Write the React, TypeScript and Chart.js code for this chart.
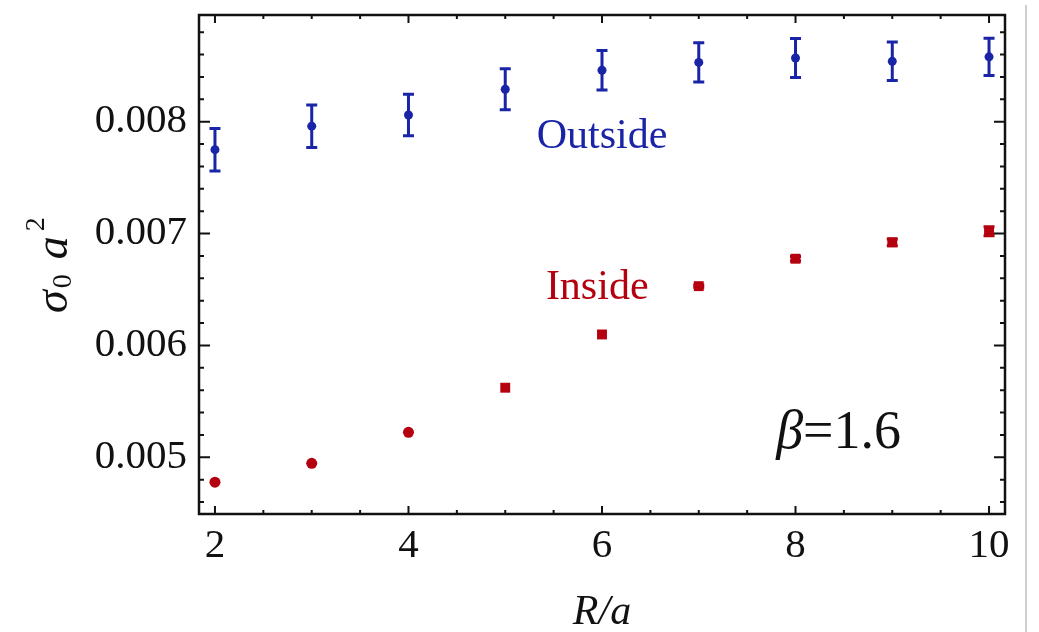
import React, { useEffect, useRef } from "react";
import { Chart, registerables } from "chart.js";
Chart.register(...registerables);

const rValues = [2, 3, 4, 5, 6, 7, 8, 9, 10];
const outsideValues = [0.00775, 0.00796, 0.00806, 0.00829, 0.00846, 0.00853, 0.00857, 0.00854, 0.00858];
const outsideErrors = [0.00019, 0.00019, 0.000185, 0.000183, 0.000176, 0.000176, 0.000174, 0.000172, 0.000167];
const insideValues = [0.004777, 0.004946, 0.005223, 0.005622, 0.006098, 0.00653, 0.006775, 0.006922, 0.007021];
const insideErrors = [0, 0, 0, 0, 0, 0.00001, 0.00002, 0.00003, 0.00004];
const insidePointStyles = ["circle", "circle", "circle", "rect", "rect", "rect", "rect", "rect", "rect"];

const xTickValues = [2, 4, 6, 8, 10];
const yTickValues = [0.005, 0.006, 0.007, 0.008];
const xMinorTickValues = [2, 2.5, 3, 3.5, 4, 4.5, 5, 5.5, 6, 6.5, 7, 7.5, 8, 8.5, 9, 9.5, 10];
const yMinorTickValues = [
  0.0046, 0.0048, 0.005, 0.0052, 0.0054, 0.0056, 0.0058, 0.006, 0.0062, 0.0064, 0.0066,
  0.0068, 0.007, 0.0072, 0.0074, 0.0076, 0.0078, 0.008, 0.0082, 0.0084, 0.0086, 0.0088,
];

const X_MIN = 1.835;
const X_MAX = 10.165;
const Y_MIN = 0.004493;
const Y_MAX = 0.008954;

const BLUE = "#1a24a6";
const RED = "#b4000f";
const SERIF = "'Liberation Serif', 'Times New Roman', serif";

function drawErrorBars(ctx: CanvasRenderingContext2D, chart: any, values: number[], errs: number[], color: string) {
  const xs = chart.scales.x;
  const ys = chart.scales.y;
  ctx.save();
  ctx.strokeStyle = color;
  ctx.lineWidth = 3;
  for (let i = 0; i < rValues.length; i++) {
    if (!errs[i]) continue;
    const px = xs.getPixelForValue(rValues[i]);
    const yTop = ys.getPixelForValue(values[i] + errs[i]);
    const yBot = ys.getPixelForValue(values[i] - errs[i]);
    ctx.beginPath();
    ctx.moveTo(px, yTop);
    ctx.lineTo(px, yBot);
    ctx.moveTo(px - 5.5, yTop);
    ctx.lineTo(px + 5.5, yTop);
    ctx.moveTo(px - 5.5, yBot);
    ctx.lineTo(px + 5.5, yBot);
    ctx.stroke();
  }
  ctx.restore();
}

const framePlugin = {
  id: "framePlugin",
  beforeDatasetsDraw(chart: any) {
    const ctx = chart.ctx;
    drawErrorBars(ctx, chart, outsideValues, outsideErrors, BLUE);
    drawErrorBars(ctx, chart, insideValues, insideErrors, RED);
  },
  afterDraw(chart: any) {
    const ctx: CanvasRenderingContext2D = chart.ctx;
    const { left, right, top, bottom } = chart.chartArea;
    const xs = chart.scales.x;
    const ys = chart.scales.y;
    ctx.save();
    // frame
    ctx.strokeStyle = "#111";
    ctx.lineWidth = 2.5;
    ctx.strokeRect(left, top, right - left, bottom - top);
    // ticks
    ctx.lineWidth = 2;
    ctx.beginPath();
    for (const v of xMinorTickValues) {
      const px = xs.getPixelForValue(v);
      const len = xTickValues.includes(v) ? 8 : 4;
      ctx.moveTo(px, bottom);
      ctx.lineTo(px, bottom - len);
      ctx.moveTo(px, top);
      ctx.lineTo(px, top + len);
    }
    for (const v of yMinorTickValues) {
      const py = ys.getPixelForValue(v);
      const major = yTickValues.some((t) => Math.abs(t - v) < 1e-9);
      const len = major ? 11 : 5;
      ctx.moveTo(left, py);
      ctx.lineTo(left + len, py);
      ctx.moveTo(right, py);
      ctx.lineTo(right - len, py);
    }
    ctx.stroke();

    // annotations
    ctx.textAlign = "left";
    ctx.textBaseline = "alphabetic";
    ctx.font = `42px ${SERIF}`;
    ctx.fillStyle = BLUE;
    ctx.fillText("Outside", xs.getPixelForValue(5.325), ys.getPixelForValue(0.007765));
    ctx.fillStyle = RED;
    ctx.fillText("Inside", xs.getPixelForValue(5.42), ys.getPixelForValue(0.006416));

    ctx.fillStyle = "#111";
    const bx = xs.getPixelForValue(7.8);
    const by = ys.getPixelForValue(0.00508);
    ctx.font = `italic 54px ${SERIF}`;
    ctx.fillText("β", bx, by);
    const bw = ctx.measureText("β").width;
    ctx.font = `54px ${SERIF}`;
    ctx.fillText("=1.6", bx + bw, by);

    // x axis title
    ctx.font = `italic 42px ${SERIF}`;
    ctx.textAlign = "center";
    ctx.fillText("R/a", (left + right) / 2, 624);

    // y axis title
    ctx.save();
    ctx.translate(67, 313);
    ctx.rotate(-Math.PI / 2);
    ctx.textAlign = "left";
    let cx = 0;
    ctx.font = `italic 46px ${SERIF}`;
    ctx.fillText("σ", cx, 0);
    cx += ctx.measureText("σ").width + 2;
    ctx.font = `28px ${SERIF}`;
    ctx.fillText("0", cx, 4);
    cx += ctx.measureText("0").width + 15;
    ctx.font = `italic 46px ${SERIF}`;
    ctx.fillText("a", cx, 0);
    cx += ctx.measureText("a").width + 5;
    ctx.font = `28px ${SERIF}`;
    ctx.fillText("2", cx, -23);
    ctx.restore();

    // gray vertical rule at right
    ctx.strokeStyle = "#cfcfcf";
    ctx.lineWidth = 2;
    ctx.beginPath();
    ctx.moveTo(1026, 5);
    ctx.lineTo(1026, chart.height);
    ctx.stroke();
    ctx.restore();
  },
};

export default function App() {
  const canvasRef = useRef<HTMLCanvasElement | null>(null);

  useEffect(() => {
    document.body.style.margin = "0";
    const canvas = canvasRef.current;
    if (!canvas) return;
    const chart = new Chart(canvas, {
      type: "scatter",
      data: {
        datasets: [
          {
            label: "Outside",
            data: rValues.map((r, i) => ({ x: r, y: outsideValues[i] })),
            backgroundColor: BLUE,
            borderColor: BLUE,
            pointStyle: "circle",
            pointRadius: 4.5,
            borderWidth: 0,
          },
          {
            label: "Inside",
            data: rValues.map((r, i) => ({ x: r, y: insideValues[i] })),
            backgroundColor: RED,
            borderColor: RED,
            pointStyle: insidePointStyles as any,
            pointRadius: insidePointStyles.map((s) => (s === "rect" ? 7 : 5.5)),
            borderWidth: 0,
          },
        ],
      },
      options: {
        responsive: false,
        animation: false,
        devicePixelRatio: 1,
        layout: { padding: { top: 15, right: 34, left: 0, bottom: 0 } },
        plugins: { legend: { display: false }, tooltip: { enabled: false } },
        scales: {
          x: {
            type: "linear",
            min: X_MIN,
            max: X_MAX,
            grid: { display: false, drawTicks: false },
            border: { display: false },
            afterBuildTicks: (scale: any) => {
              scale.ticks = xTickValues.map((v) => ({ value: v }));
            },
            afterFit: (scale: any) => {
              scale.height = 118;
              scale.paddingLeft = 0;
              scale.paddingRight = 0;
            },
            ticks: {
              color: "#111",
              padding: 8,
              maxRotation: 0,
              font: { family: SERIF, size: 41, lineHeight: 1.2 },
              callback: (v: any) => String(v),
            },
          },
          y: {
            type: "linear",
            min: Y_MIN,
            max: Y_MAX,
            grid: { display: false, drawTicks: false },
            border: { display: false },
            afterBuildTicks: (scale: any) => {
              scale.ticks = yTickValues.map((v) => ({ value: v }));
            },
            afterFit: (scale: any) => {
              scale.width = 199;
              scale.paddingTop = 0;
              scale.paddingBottom = 0;
            },
            ticks: {
              color: "#111",
              padding: 12,
              font: { family: SERIF, size: 41 },
              callback: (v: any) => Number(v).toFixed(3),
            },
          },
        },
      },
      plugins: [framePlugin],
    });
    return () => chart.destroy();
  }, []);

  return (
    <div style={{ position: "absolute", left: 0, top: 0, width: 1039, height: 632, background: "#fff" }}>
      <canvas ref={canvasRef} width={1039} height={632} style={{ display: "block" }} />
    </div>
  );
}
